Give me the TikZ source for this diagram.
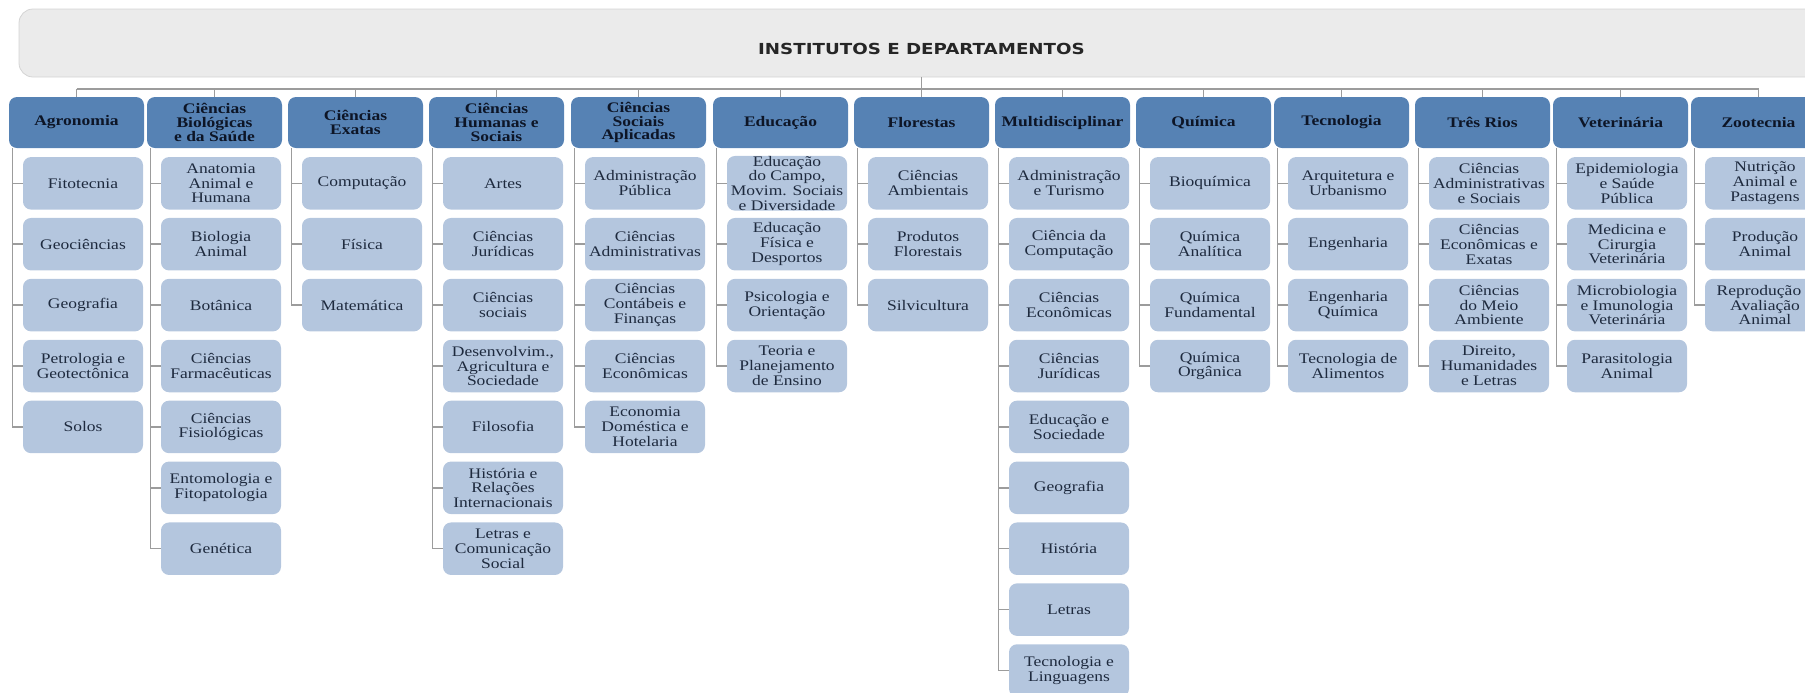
\documentclass[tikz,border=0pt]{standalone}
\usepackage{fontspec}
\setmainfont[FakeStretch=1.2]{Liberation Serif}
\newfontfamily\titlefont[FakeStretch=1.2]{DejaVu Sans}

\definecolor{headblue}{HTML}{5682B4}
\definecolor{subblue}{HTML}{B4C6DE}
\definecolor{titlegray}{HTML}{EBEBEB}
\definecolor{framegray}{HTML}{D4D4D4}
\definecolor{linegray}{HTML}{9C9C9C}
\definecolor{inkblue}{HTML}{1E2A3E}
\definecolor{headink}{HTML}{0D1526}

\tikzset{
    titlebox/.style={draw=framegray, fill=titlegray, rounded corners=7pt,
        minimum width=902.5pt, minimum height=34pt, inner sep=0pt,
        text height=11.75pt, text depth=0pt, text=black!85,
        font=\titlefont\bfseries\fontsize{7.6}{8}\selectfont},
    dept/.style={fill=headblue, rounded corners=4pt, minimum width=67.5pt,
        minimum height=25.5pt, inner sep=0pt, align=center, text=headink,
        font=\bfseries\fontsize{7.3}{6.8}\selectfont},
    subdept/.style={fill=subblue, rounded corners=4pt, minimum width=60pt,
        minimum height=26.25pt, inner sep=0pt, align=center, text=inkblue,
        font=\fontsize{7.3}{7.4}\selectfont},
    branch/.style={draw=linegray, line width=0.75pt},
}

% #1 nome da coluna, #2 x do cabecalho, #3 lista de departamentos
\newcommand{\subdepts}[3]{%
    \foreach \t [count=\k] in {#3} {
        \node[subdept] (#1-\k) at ({#2+6.5},{183.3+60.9*(\k-1)}) {\t};
        \draw[branch] ([xshift=2pt]#1.south west) |- (#1-\k);
    }}

\begin{document}
\begin{tikzpicture}[x=0.5pt, y=-0.5pt]
    \useasboundingbox (0,0) rectangle (1805,692);
    \clip (0,0) rectangle (1805,692);

    \node[titlebox] (title) at (921.5,43) {INSTITUTOS E DEPARTAMENTOS};
    \coordinate (bus) at (0,89);

    % institutos
    \foreach \cx/\id/\head in {
        76.5/agr/Agronomia,
        214.5/bio/{Ciências\\Biológicas\\e da Saúde},
        355.5/exa/{Ciências\\Exatas},
        496.5/hum/{Ciências\\Humanas e\\Sociais},
        638.5/soc/{Ciências\\Sociais\\Aplicadas},
        780.5/edu/Educação,
        921.5/flo/Florestas,
        1062.5/mul/Multidisciplinar,
        1203.5/qui/Química,
        1341.5/tec/Tecnologia,
        1482.5/tri/Três Rios,
        1620.5/vet/Veterinária,
        1758.5/zoo/Zootecnia} {
        \node[dept] (\id) at (\cx,122.5) {\head};
        \draw[branch] (\id.north) -- (\id.north |- bus);
    }
    \draw[branch] (agr.north |- bus) -- (zoo.north |- bus);
    \draw[branch] (title.south) -- (title.south |- bus);

    % departamentos
    \subdepts{agr}{76.5}{Fitotecnia, Geociências, Geografia,
        {Petrologia e\\Geotectônica}, Solos}
    \subdepts{bio}{214.5}{{Anatomia\\Animal e\\Humana}, {Biologia\\Animal},
        Botânica, {Ciências\\Farmacêuticas}, {Ciências\\Fisiológicas},
        {Entomologia e\\Fitopatologia}, Genética}
    \subdepts{exa}{355.5}{Computação, Física, Matemática}
    \subdepts{hum}{496.5}{Artes, {Ciências\\Jurídicas}, {Ciências\\sociais},
        {Desenvolvim.,\\Agricultura e\\Sociedade}, Filosofia,
        {História e\\Relações\\Internacionais}, {Letras e\\Comunicação\\Social}}
    \subdepts{soc}{638.5}{{Administração\\Pública}, {Ciências\\Administrativas},
        {Ciências\\Contábeis e\\Finanças}, {Ciências\\Econômicas},
        {Economia\\Doméstica e\\Hotelaria}}
    \subdepts{edu}{780.5}{{Educação\\do Campo,\\Movim. Sociais\\e Diversidade},
        {Educação\\Física e\\Desportos}, {Psicologia e\\Orientação},
        {Teoria e\\Planejamento\\de Ensino}}
    \subdepts{flo}{921.5}{{Ciências\\Ambientais}, {Produtos\\Florestais}, Silvicultura}
    \subdepts{mul}{1062.5}{{Administração\\e Turismo}, {Ciência da\\Computação},
        {Ciências\\Econômicas}, {Ciências\\Jurídicas}, {Educação e\\Sociedade},
        Geografia, História, Letras, {Tecnologia e\\Linguagens}}
    \subdepts{qui}{1203.5}{Bioquímica, {Química\\Analítica}, {Química\\Fundamental},
        {Química\\Orgânica}}
    \subdepts{tec}{1341.5}{{Arquitetura e\\Urbanismo}, Engenharia,
        {Engenharia\\Química}, {Tecnologia de\\Alimentos}}
    \subdepts{tri}{1482.5}{{Ciências\\Administrativas\\e Sociais},
        {Ciências\\Econômicas e\\Exatas}, {Ciências\\do Meio\\Ambiente},
        {Direito,\\Humanidades\\e Letras}}
    \subdepts{vet}{1620.5}{{Epidemiologia\\e Saúde\\Pública},
        {Medicina e\\Cirurgia\\Veterinária}, {Microbiologia\\e Imunologia\\Veterinária},
        {Parasitologia\\Animal}}
    \subdepts{zoo}{1758.5}{{Nutrição\\Animal e\\Pastagens}, {Produção\\Animal},
        {Reprodução e\\Avaliação\\Animal}}
\end{tikzpicture}
\end{document}
